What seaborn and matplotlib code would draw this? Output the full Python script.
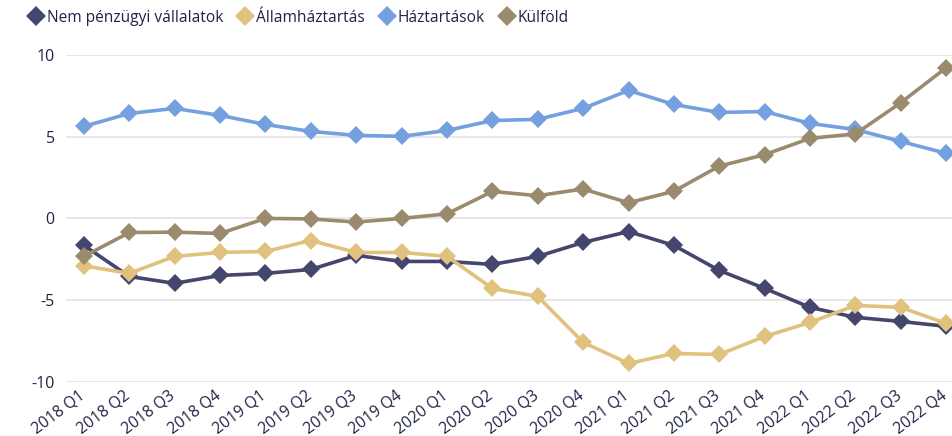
import matplotlib
matplotlib.use("Agg")
import matplotlib.pyplot as plt
import matplotlib.transforms as mtransforms
import seaborn as sns
import pandas as pd

categories = ["2018 Q1", "2018 Q2", "2018 Q3", "2018 Q4",
              "2019 Q1", "2019 Q2", "2019 Q3", "2019 Q4",
              "2020 Q1", "2020 Q2", "2020 Q3", "2020 Q4",
              "2021 Q1", "2021 Q2", "2021 Q3", "2021 Q4",
              "2022 Q1", "2022 Q2", "2022 Q3", "2022 Q4"]

nem_penzugyi = [-1.65, -3.55, -3.97, -3.49, -3.36, -3.12, -2.26, -2.63, -2.63, -2.81,
                -2.32, -1.47, -0.80, -1.65, -3.18, -4.28, -5.44, -6.05, -6.30, -6.60]
allamhaztartas = [-2.90, -3.36, -2.32, -2.08, -2.02, -1.35, -2.08, -2.08, -2.32, -4.28,
                  -4.77, -7.58, -8.87, -8.26, -8.32, -7.22, -6.36, -5.32, -5.44, -6.42]
haztartasok = [5.63, 6.42, 6.73, 6.30, 5.75, 5.32, 5.08, 5.02, 5.38, 5.99,
               6.06, 6.73, 7.83, 6.97, 6.48, 6.54, 5.81, 5.44, 4.71, 3.98]
kulfold = [-2.32, -0.86, -0.84, -0.92, 0.00, -0.03, -0.22, 0.00, 0.28, 1.65,
           1.39, 1.80, 0.96, 1.66, 3.20, 3.90, 4.90, 5.17, 7.08, 9.22]

series_names = ["Nem pénzügyi vállalatok", "Államháztartás", "Háztartások", "Külföld"]
series_values = [nem_penzugyi, allamhaztartas, haztartasok, kulfold]
colors = ["#44466e", "#e0c27e", "#74a0e0", "#9b8b6e"]

rows = []
for name, vals in zip(series_names, series_values):
    for i, (c, v) in enumerate(zip(categories, vals)):
        rows.append({"idx": i, "cat": c, "series": name, "value": v})
df = pd.DataFrame(rows)

sns.set_theme(style="white")
plt.rcParams["font.family"] = ["Open Sans", "DejaVu Sans"]
text_color = "#1f2447"

fig = plt.figure(figsize=(9.53, 4.36), dpi=100)
ax = fig.add_axes([0.069, 0.124, 0.931, 0.75])

sns.lineplot(data=df, x="idx", y="value", hue="series", style="series",
             hue_order=series_names, palette=colors,
             markers=["D", "D", "D", "D"], dashes=False,
             linewidth=2.6, markersize=9.5, markeredgewidth=0,
             ax=ax, legend=True, sort=False)

ax.set_xlim(-0.40, 19.15)
ax.set_ylim(-10, 10)
ax.set_yticks([-10, -5, 0, 5, 10])
ax.set_yticklabels(["-10", "-5", "0", "5", "10"], color=text_color, fontsize=11.5)
ax.set_xticks(range(len(categories)))
ax.set_xticklabels(categories, rotation=37, ha="right", rotation_mode="anchor",
                   color=text_color, fontsize=11.3)
ax.tick_params(axis="y", length=0, pad=8)
ax.tick_params(axis="x", length=0, pad=4)
offset = mtransforms.ScaledTranslation(-6 / 100, 0, fig.dpi_scale_trans)
for lbl in ax.get_xticklabels():
    lbl.set_transform(lbl.get_transform() + offset)
ax.grid(axis="y", color="#e3e3e3", linewidth=1.2)
ax.set_axisbelow(True)
for s in ax.spines.values():
    s.set_visible(False)
ax.set_xlabel("")
ax.set_ylabel("")

handles, labels = ax.get_legend_handles_labels()
ax.get_legend().remove()
fig.legend(handles, labels, loc="upper left", bbox_to_anchor=(0.015, 1.01), ncol=4,
           frameon=False, fontsize=11.2, handlelength=1.0, handletextpad=0.2,
           columnspacing=0.9, labelcolor=text_color)
for h in fig.legends[0].legend_handles:
    h.set_linestyle("none")
    h.set_markersize(10)

fig.savefig("out.png", dpi=100)
